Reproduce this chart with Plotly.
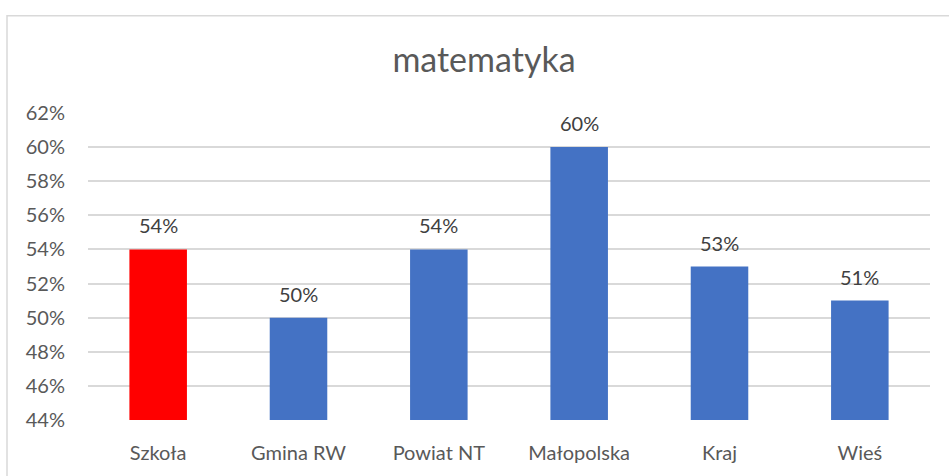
import plotly.graph_objects as go

categories = ["Szkoła", "Gmina RW", "Powiat NT", "Małopolska", "Kraj", "Wieś"]
values = [0.54, 0.50, 0.54, 0.60, 0.53, 0.51]
colors = ["#FF0000", "#4472C4", "#4472C4", "#4472C4", "#4472C4", "#4472C4"]
tick_vals = [0.44, 0.46, 0.48, 0.50, 0.52, 0.54, 0.56, 0.58, 0.60, 0.62]
labels = [f"{round(v*100)}%" for v in values]

FONT = "Lato, Noto Sans, sans-serif"

fig = go.Figure(go.Bar(
    x=categories, y=values, marker=dict(color=colors, line=dict(width=0)),
    hoverinfo="skip",
))

annotations = [
    dict(x=c, y=v, text=t, showarrow=False, xref="x", yref="y",
         yanchor="bottom", yshift=10, font=dict(size=20, color="#404040", family=FONT))
    for c, v, t in zip(categories, values, labels)
]

fig.update_layout(
    width=949, height=476,
    margin=dict(l=88, r=19, t=113, b=54),
    paper_bgcolor="white", plot_bgcolor="white",
    bargap=0.59, showlegend=False,
    title=dict(text="matematyka", x=484/949, xanchor="center", y=1 - 60/476, yanchor="middle",
               xref="container", yref="container",
               font=dict(size=34, color="#595959", family=FONT)),
    font=dict(family=FONT, color="#595959", size=20),
    xaxis=dict(showgrid=False, showline=False, ticks="", ticklabelstandoff=19,
               tickfont=dict(size=20, color="#595959")),
    yaxis=dict(range=[0.44, 0.62], tickvals=tick_vals, tickformat=".0%",
               showgrid=True, gridcolor="#D9D9D9", gridwidth=1.5, zeroline=False,
               showline=False, ticks="", ticklabelstandoff=22,
               tickfont=dict(size=20, color="#595959")),
    annotations=annotations,
    shapes=[dict(type="rect", xref="paper", yref="paper",
                 x0=(7-88)/842, x1=1.2, y0=-0.5, y1=(422-15)/309,
                 line=dict(color="#D9D9D9", width=1.5), fillcolor="rgba(0,0,0,0)", layer="below")],
)

fig.write_html("out.html", config={"displayModeBar": False},
               post_script="document.body.style.margin='0px';")
